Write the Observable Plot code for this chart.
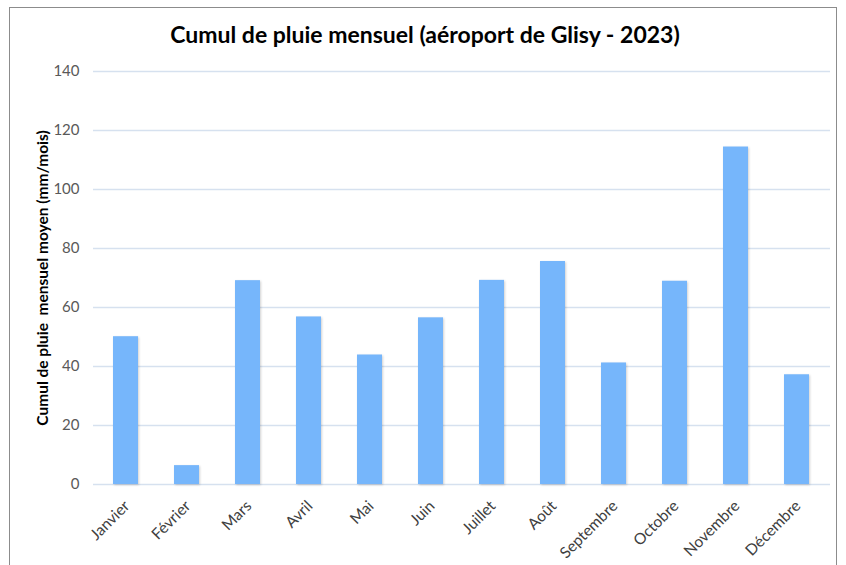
<!DOCTYPE html>
<html>
<head>
<meta charset="utf-8">
<script src="https://cdn.jsdelivr.net/npm/d3@7"></script>
<script src="https://cdn.jsdelivr.net/npm/@observablehq/plot@0.6"></script>
<style>
  html, body { margin: 0; padding: 0; background: #fff; }
  #wrap { position: relative; width: 846px; height: 565px; overflow: hidden; font-family: Lato, "Open Sans", sans-serif; }
  #border { position: absolute; left: 9px; top: 7px; width: 828px; height: 600px; border: 1px solid #8c8c8c; box-sizing: border-box; }
  #title { position: absolute; left: 2px; width: 846px; top: 20px; text-align: center; font-size: 23px; font-weight: bold; color: #000; }
  #chart { position: absolute; left: 0; top: 0; }
  #chart g.bar rect { filter: drop-shadow(1px 1px 1px rgba(0,0,0,0.18)); }
</style>
</head>
<body>
<div id="wrap">
  <div id="border"></div>
  <div id="title">Cumul de pluie mensuel (aéroport de Glisy - 2023)</div>
  <div id="chart"></div>
</div>
<script>
const months = ["Janvier","Février","Mars","Avril","Mai","Juin","Juillet","Août","Septembre","Octobre","Novembre","Décembre"];
const rainfall = [50.1, 6.4, 69.1, 56.8, 43.9, 56.5, 69.2, 75.6, 41.2, 68.9, 114.4, 37.2];
const yTicks = [0, 20, 40, 60, 80, 100, 120, 140];
const yLabel = "Cumul de pluie  mensuel moyen (mm/mois)";

const data = months.map((m, i) => ({month: m, value: rainfall[i]}));

const chart = Plot.plot({
  width: 846,
  height: 565,
  marginTop: 71,
  marginBottom: 81,
  marginLeft: 93,
  marginRight: 16,
  style: {background: "transparent", fontFamily: "Lato, 'Open Sans', sans-serif"},
  x: {domain: months, paddingInner: 0.59, paddingOuter: 0.295, label: null},
  y: {domain: [0, 140], label: null},
  marks: [
    Plot.gridY(yTicks, {stroke: "#d6e1ef", strokeOpacity: 1, strokeWidth: 1.5}),
    Plot.barY(data, {x: "month", y: "value", fill: "#76b6fb", className: "bar"}),
    Plot.axisY(yTicks, {tickSize: 0, tickPadding: 14, fontSize: 15, fill: "#595959", label: null}),
    Plot.axisX({tickSize: 0, tickPadding: 19, tickRotate: -45, fontSize: 15.5, fill: "#404040", dx: 1, label: null}),
    Plot.text([yLabel], {frameAnchor: "left", textAnchor: "middle", dx: -50, rotate: -90, fontWeight: "bold", fontSize: 15.5, fill: "#000"})
  ]
});
document.getElementById("chart").appendChild(chart);
</script>
</body>
</html>
